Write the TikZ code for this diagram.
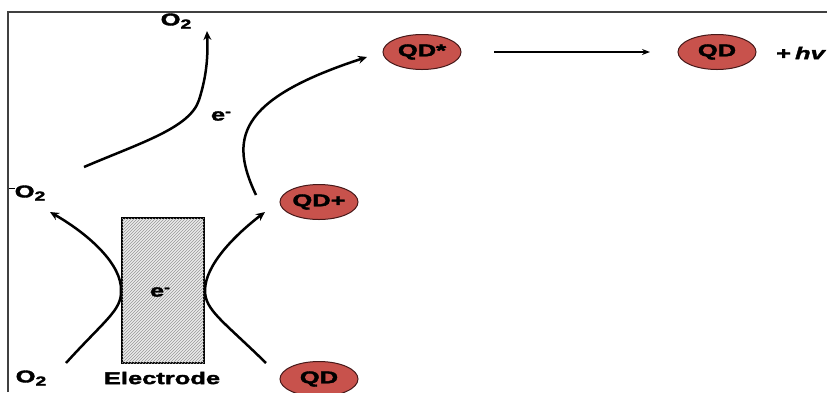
\documentclass[tikz,border=0pt]{standalone}
\usepackage{fontspec}
\setmainfont{Liberation Sans}
\newfontfamily\widefont[FakeStretch=1.5,FakeBold=2.2,ItalicFont={Liberation Sans Bold Italic},ItalicFeatures={FakeBold=2.2,FakeStretch=1.5}]{Liberation Sans Bold}
\usetikzlibrary{arrows.meta,patterns,shapes.geometric}
\definecolor{qdred}{RGB}{200,82,76}
\definecolor{qdedge}{RGB}{70,25,25}
\tikzset{
  lbl/.style={font=\widefont\fontsize{17}{17}\selectfont, inner sep=0pt},
  qd/.style={ellipse, draw=qdedge, line width=1pt, fill=qdred, minimum width=78pt, minimum height=35pt, inner sep=0pt, font=\widefont\fontsize{17}{17}\selectfont},
  flow/.style={line width=2.5pt, -{Stealth[length=9pt,width=8pt]}},
}
\newcommand{\Otwo}{O\raisebox{-0.35ex}{\fontsize{13}{13}\selectfont 2}}
\newcommand{\elec}{e\raisebox{0.55ex}{\fontsize{12}{12}\selectfont -}}
\begin{document}
\begin{tikzpicture}[x=1pt,y=-1pt]
\useasboundingbox (0,0) rectangle (827,392);
\fill[white] (0,0) rectangle (827,392);
% frame
\draw[line width=1.5pt, black!75] (8,392) -- (8,12) -- (827,12);
% electrode
\node[draw, line width=2pt, minimum width=82pt, minimum height=145pt, inner sep=0pt, fill=black!8, postaction={pattern=north east lines, pattern color=black!40}] (el) at (163,290.5) {};
\node[lbl] (eel) at (160,292) {\elec};
\node[lbl] (elab) at (162,378) {Electrode};
% labels
\node[lbl] (o2top) at (176,21) {\Otwo};
\node[lbl, anchor=west] (o2mid) at (9,193) {\raisebox{0.9ex}{\rule{6pt}{1.2pt}}\kern-0.5pt\Otwo};
\node[lbl] (o2bot) at (31,378) {\Otwo};
\node[lbl] (etop) at (221,116) {\elec};
% QDs
\node[qd] (qds) at (422,52) {QD*};
\node[qd] (qdr) at (717,52) {QD};
\node[qd] (qdp) at (319,202) {QD+};
\node[qd] (qdb) at (319,379) {QD};
\node[lbl, anchor=east] (hv) at (825,53) {+\kern4pt\itshape hv};
% coordinates
\coordinate (a1s) at (84,167);
\coordinate (a1e) at (207,31);
\coordinate (a2s) at (256,195);
\coordinate (a2e) at (367,57);
\coordinate (lls) at (66,363);
\coordinate (lle) at (50,212);
\coordinate (rls) at (266,363);
\coordinate (rle) at (265,212);
% connectors
\draw[flow] (a1s) .. controls (140,143) and (190,128) .. (199,100) .. controls (207,75) and (208,55) .. (a1e);
\draw[flow] (a2s) .. controls (230,140) and (235,100) .. (a2e);
\draw[flow] (lls) .. controls (105,320) and (122,310) .. (el.west) .. controls (122,265) and (90,235) .. (lle);
\draw[flow] (rls) .. controls (222,320) and (205,310) .. (el.east) .. controls (205,265) and (235,235) .. (rle);
\draw[line width=1.8pt, -{Stealth[length=8pt,width=6pt]}] (494,52) coordinate (h1) -- (650,52) coordinate (h2);
\end{tikzpicture}
\end{document}
